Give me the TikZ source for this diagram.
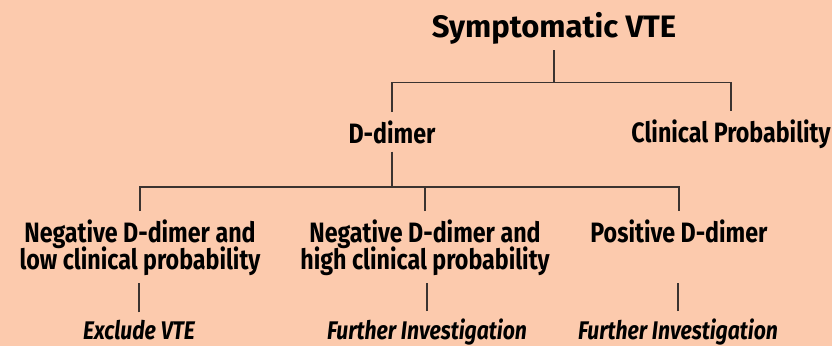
\documentclass[tikz,border=0pt]{standalone}
\usepackage{fontspec}
\setmainfont{Fira Sans}
\newfontfamily\condfont[FakeStretch=0.83]{Fira Sans}
\newcommand\tightlines{\lineskiplimit=-30pt\relax}
\definecolor{peach}{HTML}{FCCAAD}
\definecolor{treeline}{HTML}{3B3330}

\begin{document}
\begin{tikzpicture}[x=1pt, y=-1pt,
        title/.style={font=\fontsize{31}{34}\selectfont\bfseries, inner sep=6pt},
        choice/.style={font=\condfont\fontsize{28}{27}\selectfont\bfseries\tightlines, align=center, inner sep=8pt},
        outcome/.style={font=\condfont\fontsize{25.5}{30}\selectfont\bfseries\itshape, inner sep=7pt},
        tree/.style={line width=1.3pt, treeline}
    ]
        \fill[peach] (0,0) rectangle (832,346);
        \useasboundingbox (0,0) rectangle (832,346);

        \node[title, anchor=base] (vte) at (554,37) {Symptomatic VTE};
        \node[choice, anchor=base] (ddimer) at (392,143) {D-dimer};
        \node[choice, anchor=base] (clinical) at (731,142) {Clinical Probability};
        \node[choice, anchor=base] (neglow) at (140,269) {Negative D-dimer and\\low clinical probability};
        \node[choice, anchor=base] (neghigh) at (425,269) {Negative D-dimer and\\high clinical probability};
        \node[choice, anchor=base] (positive) at (679,242) {Positive D-dimer};
        \node[outcome, anchor=base] (exclude) at (139,339) {Exclude VTE};
        \node[outcome, anchor=base] (further) at (427,339) {Further Investigation};
        \node[outcome, anchor=base] (furtherpos) at (678,339) {Further Investigation};

        \coordinate (split1) at (554,82.5);
        \coordinate (split2) at (389,187);

        \draw[tree] (vte.south) -- (split1);
        \draw[tree] (ddimer.north) -- (ddimer.north |- split1) -- (clinical.north |- split1) -- (clinical.north);
        \draw[tree] (ddimer.south) -- (ddimer.south |- split2);
        \draw[tree] (neglow.north) -- (neglow.north |- split2) -- (positive.north |- split2) -- (positive.north);
        \draw[tree] (neghigh.north) -- (neghigh.north |- split2);
        \draw[tree] (exclude.north) -- (exclude.north |- neglow.south);
        \draw[tree] (further.north) -- (further.north |- neglow.south);
        \draw[tree] (furtherpos.north) -- (furtherpos.north |- neglow.south);
    \end{tikzpicture}
\end{document}
